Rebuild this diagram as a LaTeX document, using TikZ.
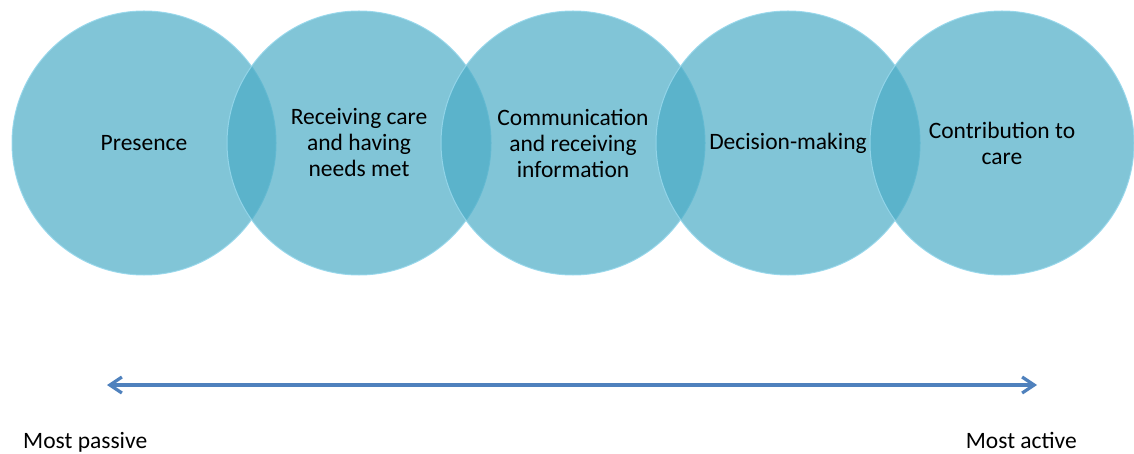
\documentclass[tikz,border=0pt]{standalone}
\usepackage{fontspec}
\setmainfont{Carlito}
\usetikzlibrary{arrows.meta}
\definecolor{bubblefill}{RGB}{75,172,198}
\definecolor{bubbleedge}{RGB}{150,215,235}
\definecolor{scaleblue}{RGB}{79,129,189}
\begin{document}
\begin{tikzpicture}[x=1pt,y=-1pt,
    bubble/.style={circle,minimum size=264pt,inner sep=0pt,fill=bubblefill,
      fill opacity=0.7,text opacity=1,draw=bubbleedge,draw opacity=0.9,
      line width=1pt,align=center,font=\fontsize{23.5}{26}\selectfont},
    endlabel/.style={inner sep=0pt,font=\fontsize{23.5}{26}\selectfont}]
  \useasboundingbox (0,0) rectangle (1134,454);
  % the five levels
  \node[bubble] (presence)     at (144,143)  {Presence};
  \node[bubble] (receiving)    at (359,143)  {Receiving care\\and having\\needs met};
  \node[bubble] (communication) at (573,143) {Communication\\and receiving\\information};
  \node[bubble] (decision)     at (788,143)  {Decision-making};
  \node[bubble] (contribution) at (1002,143) {Contribution to\\care};
  % scale underneath
  \coordinate (passiveend) at (107,385);
  \coordinate (activeend)  at (1037,385);
  \draw[scaleblue,line width=3.2pt,
    {Straight Barb[length=12pt,width=16pt]}-{Straight Barb[length=12pt,width=16pt]}]
    (passiveend) -- (activeend);
  \node[endlabel,anchor=base west] (passive) at (23,448)  {Most passive};
  \node[endlabel,anchor=base east] (active)  at (1077,448) {Most active};
\end{tikzpicture}
\end{document}
